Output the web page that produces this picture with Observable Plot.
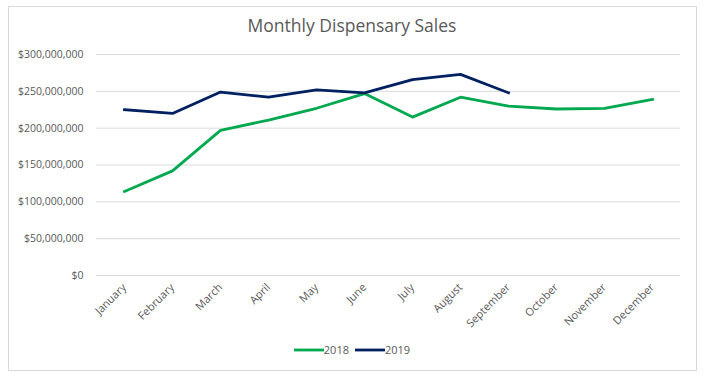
<!DOCTYPE html>
<html><head><meta charset="utf-8">
<script src="https://cdn.jsdelivr.net/npm/d3@7"></script>
<script src="https://cdn.jsdelivr.net/npm/@observablehq/plot@0.6"></script>
<style>
body{margin:0;background:#fff;font-family:"Open Sans",sans-serif;}
#frame{position:absolute;left:8px;top:6px;width:687px;height:363px;border:1px solid #D9D9D9;}
#title{position:absolute;left:0;top:13px;width:704px;text-align:center;font-size:17.5px;color:#595959;}
#chart{position:absolute;left:0;top:40px;}
#legend{position:absolute;left:0;top:342px;width:704px;text-align:center;font-size:11px;color:#595959;}
#legend span{display:inline-flex;align-items:center;margin:0 3px;}
</style></head>
<body>
<div id="frame"></div>
<div id="title">Monthly Dispensary Sales</div>
<div id="chart"></div>
<div id="legend"></div>
<script>
const months = ["January","February","March","April","May","June","July","August","September","October","November","December"];
const years = ["2018","2019"];
const colors = ["#00A84F","#002060"];
const sales2018 = [114e6,142e6,197e6,211e6,227e6,247e6,215e6,242e6,230e6,226e6,227e6,239e6];
const sales2019 = [225e6,220e6,249e6,242e6,252e6,248e6,266e6,273e6,248e6];
const yTicks = [0,50e6,100e6,150e6,200e6,250e6,300e6];

const data = [];
sales2018.forEach((v,i)=>data.push({month:months[i],year:"2018",value:v}));
sales2019.forEach((v,i)=>data.push({month:months[i],year:"2019",value:v}));

const plot = Plot.plot({
  width: 704, height: 300,
  marginLeft: 96, marginRight: 24, marginTop: 14, marginBottom: 65,
  style: {fontFamily: '"Open Sans", sans-serif', fontSize: "10.5px", color: "#595959", background: "transparent"},
  x: {type: "point", domain: months, padding: 0.5, label: null},
  y: {domain: [0, 300e6], label: null},
  color: {domain: years, range: colors},
  marks: [
    Plot.gridY(yTicks, {stroke: "#D9D9D9", strokeOpacity: 1}),
    Plot.axisY({ticks: yTicks, tickSize: 0, tickPadding: 13, tickFormat: d3.format("$,"), label: null, fill: "#595959"}),
    Plot.axisX({tickRotate: -45, tickSize: 0, tickPadding: 10, label: null, fill: "#595959", fontSize: "11px"}),
    Plot.line(data, {x: "month", y: "value", z: "year", stroke: "year", strokeWidth: 2.8, strokeLinejoin: "round", strokeLinecap: "square"})
  ]
});
document.getElementById("chart").appendChild(plot);

const lg = document.getElementById("legend");
years.forEach((y,i)=>{
  const s = document.createElement("span");
  s.innerHTML = `<svg width="30" height="10"><line x1="0" x2="30" y1="5" y2="5" stroke="${colors[i]}" stroke-width="2.8"/></svg><span style="margin:0">${y}</span>`;
  lg.appendChild(s);
});
</script>
</body></html>
